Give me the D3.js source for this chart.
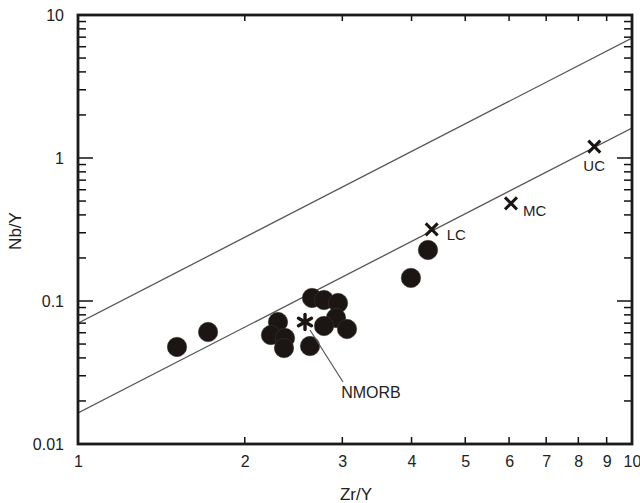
<!DOCTYPE html>
<html><head><meta charset="utf-8">
<script src="https://cdn.jsdelivr.net/npm/d3@7"></script>
<style>
body{margin:0;background:#fff;}
text{font-family:"Liberation Sans",Arial,sans-serif;fill:#222;}
</style></head>
<body>
<svg id="c" width="640" height="503"></svg>
<script>
// Data
const sampleZrY = [1.509,1.717,2.296,2.230,2.364,2.354,2.623,2.645,2.780,2.947,2.922,2.780,3.059,3.99,4.283];
const sampleNbY = [0.0477,0.0607,0.0713,0.0578,0.0551,0.0469,0.0484,0.105,0.1016,0.0968,0.0761,0.0669,0.0637,0.145,0.2274];
const crustNames = ["LC","MC","UC"];
const crustZrY = [4.349,6.047,8.55];
const crustNbY = [0.317,0.482,1.2];
const nmorbZrY = [2.569];
const nmorbNbY = [0.0713];
const lineZrY = [1,10];
const upperNbY = [0.070,6.9];
const lowerNbY = [0.0165,1.62];
const xTickLabels = [1,2,3,4,5,6,7,8,9,10];
const yTickLabels = [0.01,0.1,1,10];

const L=78,R=632,T=15,B=444;
const svg=d3.select("#c");
const x=d3.scaleLog().domain([1,10]).range([L,R]);
const y=d3.scaleLog().domain([0.01,10]).range([B,T]);

const minorX=[2,3,4,5,6,7,8,9];
const minorY=[];
[0.01,0.1,1].forEach(d=>{for(let k=2;k<=9;k++)minorY.push(+(d*k).toPrecision(3));});
const majorY=[0.1,1];

// clip
svg.append("clipPath").attr("id","clip").append("rect").attr("x",L).attr("y",T).attr("width",R-L).attr("height",B-T);

// Reference lines
const lg=d3.line().x(d=>x(d[0])).y(d=>y(d[1]));
[upperNbY,lowerNbY].forEach(ys=>{
  svg.append("path").attr("clip-path","url(#clip)")
    .attr("d",lg(lineZrY.map((v,i)=>[v,ys[i]])))
    .attr("fill","none").attr("stroke","#555").attr("stroke-width",1.3);
});

// tick labels via d3 axes
function labelAxis(g){
  g.select(".domain").remove();
  g.selectAll(".tick line").remove();
  g.selectAll(".tick text").attr("fill","#222").style("font-size","16px")
    .attr("font-family","Liberation Sans, Arial, sans-serif");
}
svg.append("g").attr("transform",`translate(0,${B})`)
  .call(d3.axisBottom(x).tickValues(xTickLabels).tickSize(0).tickPadding(12).tickFormat(d3.format("d")))
  .call(labelAxis);
svg.append("g").attr("transform",`translate(${L},0)`)
  .call(d3.axisLeft(y).tickValues(yTickLabels).tickSize(0).tickPadding(14).tickFormat(d=>String(d)))
  .call(labelAxis);

// tick marks (inside)
const tg=svg.append("g").attr("stroke","#111").attr("stroke-width",1.5);
tg.selectAll("line.bx").data(minorX).join("line").attr("class","bx")
  .attr("x1",d=>x(d)).attr("x2",d=>x(d)).attr("y1",B).attr("y2",B-7);
tg.selectAll("line.tx").data(minorX).join("line").attr("class","tx")
  .attr("x1",d=>x(d)).attr("x2",d=>x(d)).attr("y1",T).attr("y2",T+6);
tg.selectAll("line.ly").data(minorY).join("line").attr("class","ly")
  .attr("x1",L).attr("x2",L+8).attr("y1",d=>y(d)).attr("y2",d=>y(d));
tg.selectAll("line.lM").data(majorY).join("line").attr("class","lM")
  .attr("x1",L).attr("x2",L+15).attr("y1",d=>y(d)).attr("y2",d=>y(d));
tg.selectAll("line.ry").data(minorY).join("line").attr("class","ry")
  .attr("x1",R).attr("x2",R-8).attr("y1",d=>y(d)).attr("y2",d=>y(d));
tg.selectAll("line.rM").data(majorY).join("line").attr("class","rM")
  .attr("x1",R).attr("x2",R-15).attr("y1",d=>y(d)).attr("y2",d=>y(d));

// frame
svg.append("rect").attr("x",L).attr("y",T).attr("width",R-L).attr("height",B-T)
  .attr("fill","none").attr("stroke","#1a1a1a").attr("stroke-width",2.8);

// samples
svg.append("g").selectAll("circle").data(sampleZrY.map((v,i)=>[v,sampleNbY[i]])).join("circle")
  .attr("cx",d=>x(d[0])).attr("cy",d=>y(d[1])).attr("r",9.7)
  .attr("fill","#1b1613").attr("stroke","#3a3430").attr("stroke-width",0.6);

// NMORB asterisk
const nx=x(nmorbZrY[0]), ny=y(nmorbNbY[0]);
const ag=svg.append("g").attr("transform",`translate(${nx},${ny})`);
[90,30,150].forEach(a=>{
  const r=7.5,rad=a*Math.PI/180;
  ag.append("line").attr("x1",-r*Math.cos(rad)).attr("y1",-r*Math.sin(rad))
    .attr("x2",r*Math.cos(rad)).attr("y2",r*Math.sin(rad))
    .attr("stroke","#1b1613").attr("stroke-width",3.4).attr("stroke-linecap","round");
});
svg.append("line").attr("x1",nx+5).attr("y1",ny+8).attr("x2",343).attr("y2",382)
  .attr("stroke","#555").attr("stroke-width",1.2);
svg.append("text").attr("x",371).attr("y",398).attr("text-anchor","middle").style("font-size","16px").text("NMORB");

// crust crosses
const cg=svg.append("g").selectAll("g").data(crustNames.map((n,i)=>({n,x:crustZrY[i],y:crustNbY[i]}))).join("g")
  .attr("transform",d=>`translate(${x(d.x)},${y(d.y)})`);
cg.append("path").attr("d","M-6,-6L6,6M-6,6L6,-6").attr("stroke","#1b1613").attr("stroke-width",3).attr("fill","none");
const labOff={LC:[15,11],MC:[12,13],UC:[-11,24]};
cg.append("text").attr("x",d=>labOff[d.n][0]).attr("y",d=>labOff[d.n][1]).style("font-size","15px").text(d=>d.n);

// axis titles
svg.append("text").attr("x",356).attr("y",500).attr("text-anchor","middle").style("font-size","17px").text("Zr/Y");
svg.append("text").attr("transform","translate(21,231) rotate(-90)").attr("text-anchor","middle").style("font-size","17px").text("Nb/Y");
</script>
</body></html>
